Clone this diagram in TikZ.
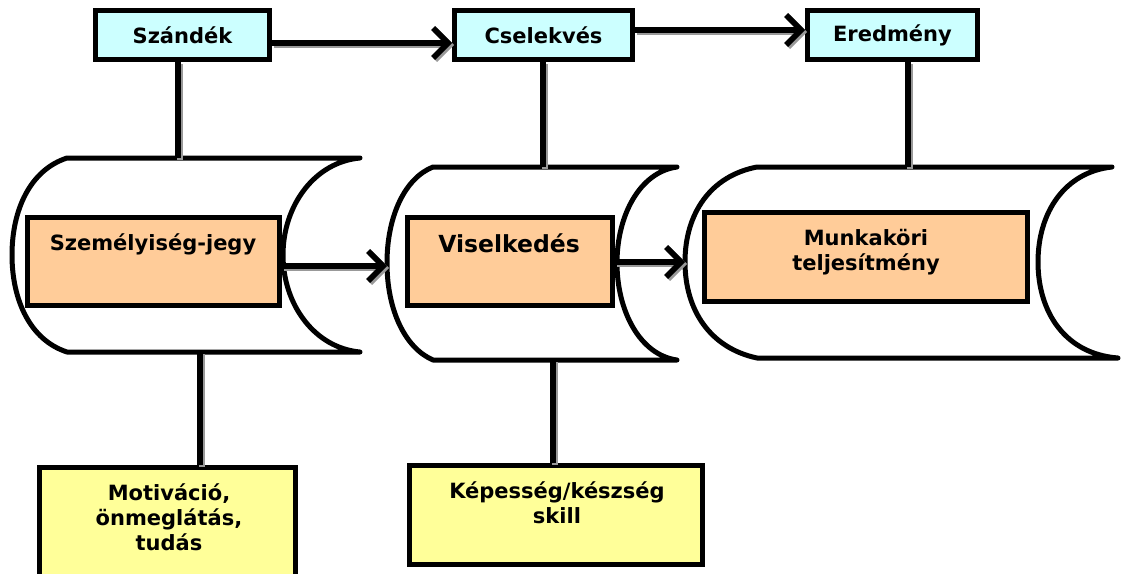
\documentclass[tikz,border=0pt]{standalone}
\usepackage{fontspec}
\setmainfont{DejaVu Sans}
\usetikzlibrary{arrows.meta}
\definecolor{cyanbox}{HTML}{CCFFFF}
\definecolor{orangebox}{HTML}{FFCC99}
\definecolor{yellowbox}{HTML}{FFFF99}
\begin{document}
\begin{tikzpicture}[x=1pt,y=-1pt,
  box/.style={draw, line width=5pt, rectangle, inner sep=0pt},
  cyl/.style={draw, line width=5pt, fill=white, line join=round},
  conn/.style={line width=5.5pt, preaction={draw=black!40, line width=5.5pt, transform canvas={shift={(2pt,-2pt)}}}},
  arr/.style={conn, -{Straight Barb[length=15pt,width=30pt]}},
  lbl/.style={font=\bfseries\fontsize{21}{25}\selectfont, align=center, inner sep=0pt},
  biglbl/.style={font=\bfseries\fontsize{23.5}{28}\selectfont, align=center, inner sep=0pt}]
\clip (0,0) rectangle (1124,573);
\fill[white] (0,0) rectangle (1124,573);

% cylinders
\draw[cyl] (67,158) -- (360,158) .. controls (315,162) and (283,205) .. (283,255)
  .. controls (283,305) and (315,348) .. (360,352) -- (67,352)
  .. controls (30,340) and (12,300) .. (12,255) .. controls (12,210) and (30,170) .. (67,158) -- cycle;
\draw[cyl] (433,167) -- (677,167) .. controls (640,172) and (617,215) .. (617,263)
  .. controls (617,311) and (640,355) .. (677,360) -- (433,360)
  .. controls (405,348) and (387,310) .. (387,263) .. controls (387,216) and (405,178) .. (433,167) -- cycle;
\draw[cyl] (757,167) -- (1112,167) .. controls (1065,172) and (1038,212) .. (1038,262)
  .. controls (1038,312) and (1065,354) .. (1118,358) -- (757,358)
  .. controls (710,348) and (685,310) .. (685,262) .. controls (685,214) and (710,176) .. (757,167) -- cycle;

\coordinate (c1top) at (178,158);
\coordinate (c2top) at (543,167);
\coordinate (c3top) at (908,167);
\coordinate (c1bot) at (200,352);
\coordinate (c2bot) at (553,360);
\coordinate (c2left) at (387,266);
\coordinate (c3left) at (685,262);

% top boxes
\node[box, fill=cyanbox, minimum width=174pt, minimum height=49pt, font=\bfseries\fontsize{21}{25}\selectfont] (szandek) at (182.5,35) {Szándék};
\node[box, fill=cyanbox, minimum width=178pt, minimum height=49pt, font=\bfseries\fontsize{21}{25}\selectfont] (cselekves) at (543.5,35) {Cselekvés};
\node[box, fill=cyanbox, minimum width=170pt, minimum height=49pt, font=\bfseries\fontsize{21}{25}\selectfont] (eredmeny) at (892.5,35) {Eredmény};

% orange boxes
\node[box, fill=orangebox, minimum width=252pt, minimum height=88pt] (szem) at (153.5,261.5) {};
\node[box, fill=orangebox, minimum width=205pt, minimum height=88pt] (visel) at (510,261.5) {};
\node[box, fill=orangebox, minimum width=323pt, minimum height=89pt] (munka) at (866,257) {};
\node[lbl, anchor=base] (szemtxt) at (153,250) {Személyiség-jegy};
\node[biglbl, anchor=base] (viseltxt) at (509,252) {Viselkedés};
\node[lbl, anchor=base] (munkatxt) at (866,270) {Munkaköri\\teljesítmény};

% yellow boxes
\node[box, fill=yellowbox, minimum width=256pt, minimum height=131pt] (motiv) at (167.5,532.5) {};
\node[box, fill=yellowbox, minimum width=293pt, minimum height=99pt] (kepes) at (556,515) {};
\node[lbl, anchor=base] (motivtxt) at (169,550) {Motiváció,\\önmeglátás,\\tudás};
\node[lbl, anchor=base] (kepestxt) at (557,523) {Képesség/készség\\skill};

% connectors
\draw[arr] ([yshift=-8pt]szandek.east) -- ([yshift=-8pt]cselekves.west);
\draw[arr] ([yshift=5pt]cselekves.east) -- ([yshift=5pt]eredmeny.west);
\draw[conn] (c1top |- szandek.south) -- (c1top);
\draw[conn] (c2top |- cselekves.south) -- (c2top);
\draw[conn] (c3top |- eredmeny.south) -- (c3top);
\draw[arr] (szem.east |- c2left) -- (c2left);
\draw[arr] (visel.east |- c3left) -- (c3left);
\draw[conn] (c1bot) -- (c1bot |- motiv.north);
\draw[conn] (c2bot) -- (c2bot |- kepes.north);
\end{tikzpicture}
\end{document}
